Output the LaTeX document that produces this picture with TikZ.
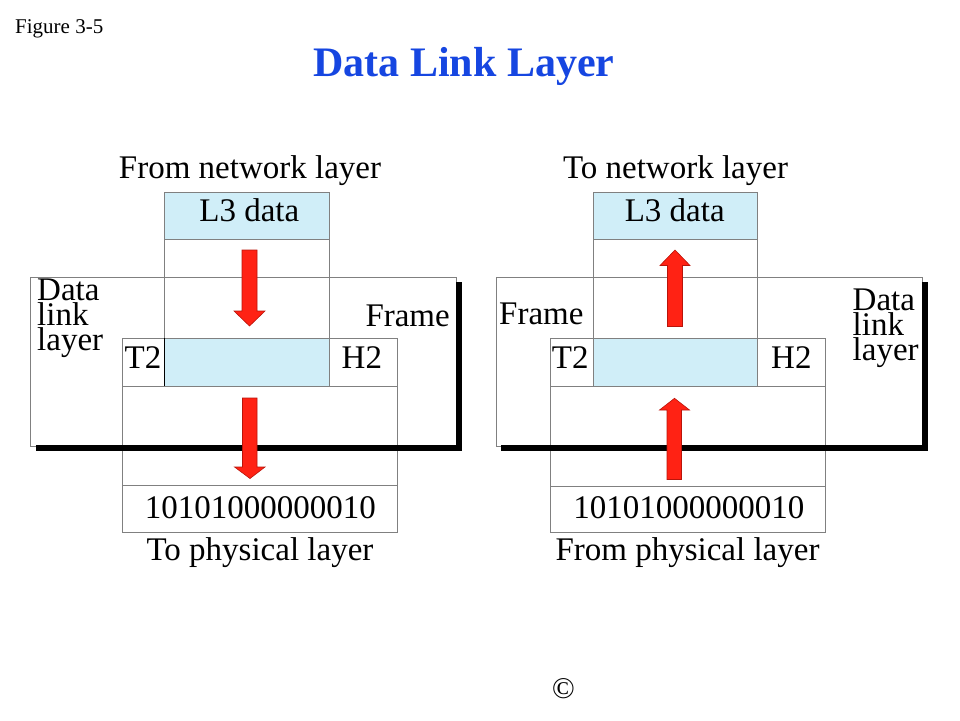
\documentclass[tikz,border=0pt]{standalone}
\usepackage{fontspec}
\setmainfont{Liberation Serif}
\definecolor{boxgray}{RGB}{128,128,128}
\definecolor{lblue}{RGB}{208,238,248}
\definecolor{arrred}{RGB}{255,34,20}
\definecolor{arredge}{RGB}{185,20,10}
\definecolor{titleblue}{RGB}{22,70,225}
\begin{document}
\begin{tikzpicture}[x=1pt,y=-1pt,
  frame/.style={draw=boxgray,line width=1pt},
  bluebox/.style={frame,fill=lblue},
  whitebox/.style={frame,fill=white},
  shadowbar/.style={fill=black,draw=none},
  redarrow/.style={fill=arrred,draw=arredge,line width=0.6pt,line join=miter},
  lbl/.style={font=\fontsize{33}{25}\selectfont,inner sep=0pt,anchor=base},
  lblw/.style={lbl,anchor=base west,align=left},
]
\useasboundingbox (0,0) rectangle (960,720);
\fill[white] (0,0) rectangle (960,720);

% header
\node[inner sep=0pt,anchor=base west,font=\fontsize{21}{21}\selectfont] (fig) at (15,33) {Figure 3-5};
\node[inner sep=0pt,anchor=base,font=\fontsize{42}{42}\selectfont\bfseries,text=titleblue] (title) at (464,76) {Data Link Layer};
\node[inner sep=0pt,anchor=center,font=\fontsize{30}{30}\selectfont\itshape] (copy) at (563,689) {\textcopyright};

% ================= LEFT PANEL =================
\draw[whitebox] (30,277) rectangle (456,446);
\draw[shadowbar] (456,282) rectangle (462,451);
\draw[frame] (164,239) rectangle (329,338);
\draw[bluebox] (164,192) rectangle (329,239);
\draw[whitebox] (122,338) rectangle (397,386);
\draw[bluebox] (164,338) rectangle (329,386);
\draw[black,line width=1pt] (164,338) -- (164,386);
\draw[frame] (122,386) rectangle (397,485);
\draw[shadowbar] (36,445) rectangle (456,451);
\draw[whitebox] (122,485) rectangle (397,532);

% left arrows (down)
\draw[redarrow] (242,250) -- (257,250) -- (257,311) -- (265,311) -- (249.5,326) -- (234,311) -- (242,311) -- cycle;
\draw[redarrow] (242.5,398) -- (257,398) -- (257,467) -- (265,467) -- (250,478.5) -- (234.5,467) -- (242.5,467) -- cycle;

% left texts
\node[lbl] (fromnet) at (250,178) {From network layer};
\node[lbl] (l3L) at (249.3,221.7) {L3 data};
\node[lblw] (dllL) at (37,350) {Data\\link\\layer};
\node[lbl,anchor=base east] (frameL) at (450,326) {Frame};
\node[lblw] (t2L) at (124.5,368.3) {T2};
\node[lblw] (h2L) at (341.5,368.3) {H2};
\node[lbl] (bitsL) at (260.3,518.3) {10101000000010};
\node[lbl] (tophys) at (260,560) {To physical layer};

% ================= RIGHT PANEL =================
\draw[whitebox] (496,277) rectangle (922,446);
\draw[shadowbar] (922,282) rectangle (928,451);
\draw[frame] (593,239) rectangle (757,338);
\draw[bluebox] (593,192) rectangle (757,239);
\draw[whitebox] (550,338) rectangle (825,386);
\draw[bluebox] (593,338) rectangle (757,386);
\draw[frame] (550,386) rectangle (825,486);
\draw[shadowbar] (501,445) rectangle (922,451);
\draw[whitebox] (550,486) rectangle (825,532);

% right arrows (up)
\draw[redarrow] (667.5,326.5) -- (682.5,326.5) -- (682.5,265.5) -- (690,265.5) -- (675,250) -- (660,265.5) -- (667.5,265.5) -- cycle;
\draw[redarrow] (667,479.5) -- (681.5,479.5) -- (681.5,410) -- (689.5,410) -- (674.5,398.3) -- (659.5,410) -- (667,410) -- cycle;

% right texts
\node[lbl] (tonet) at (675.5,178) {To network layer};
\node[lbl] (l3R) at (674.7,221.7) {L3 data};
\node[lblw] (dllR) at (852.5,360) {Data\\link\\layer};
\node[lblw] (frameR) at (499,324) {Frame};
\node[lblw] (t2R) at (551.7,368.3) {T2};
\node[lblw] (h2R) at (771,368.3) {H2};
\node[lbl] (bitsR) at (688.8,518.3) {10101000000010};
\node[lbl] (fromphys) at (687.5,560) {From physical layer};
\end{tikzpicture}
\end{document}
